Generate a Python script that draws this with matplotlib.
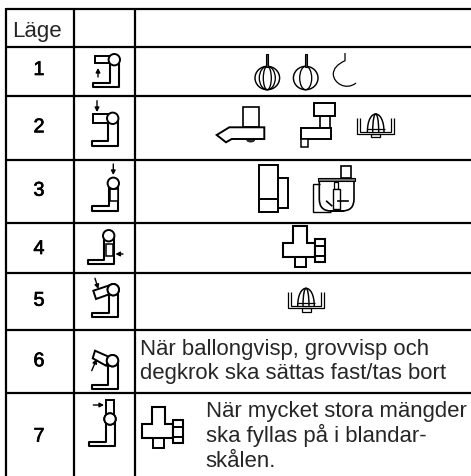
import numpy as np
import matplotlib
matplotlib.use("Agg")
import matplotlib.pyplot as plt
from matplotlib.patches import Circle, Ellipse, PathPatch, Polygon, Rectangle
from matplotlib.path import Path
import matplotlib.patheffects as pe

# table content
header = "Läge"
row_labels = ["1", "2", "3", "4", "5", "6", "7"]
note_6 = ["När ballongvisp, grovvisp och", "degkrok ska sättas fast/tas bort"]
note_7 = ["När mycket stora mängder", "ska fyllas på i blandar-", "skålen."]

# layout, in pixels of the 471x477 picture
col_edges = [5.7, 73.7, 135]
row_edges = [10, 47.7, 97, 160.7, 224.3, 273.7, 331, 394]
label_base = [76, 133.3, 196.7, 255, 306.7, 367.3, 442.7]

plt.rcParams["font.family"] = ["Liberation Sans", "DejaVu Sans"]

fig = plt.figure(figsize=(4.71, 4.77), dpi=100)
ax = fig.add_axes([0, 0, 1, 1])
ax.set_xlim(0, 471)
ax.set_ylim(477, 0)
ax.axis("off")

GRID = 1.6
LW = 1.2
TXT = "#262626"


def line(xs, ys, lw=LW):
    ax.plot(xs, ys, color="k", lw=lw, solid_capstyle="butt", solid_joinstyle="miter", zorder=4)


def rect(x0, y0, x1, y1, lw=LW, fc="white"):
    ax.add_patch(Rectangle((x0, y0), x1 - x0, y1 - y0, fc=fc, ec="k", lw=lw, zorder=3))


def poly(pts, lw=LW):
    ax.add_patch(Polygon(pts, closed=True, fc="white", ec="k", lw=lw, zorder=3))


def arrow(x0, y0, x1, y1):
    ax.annotate("", xy=(x1, y1), xytext=(x0, y0), zorder=5,
                arrowprops=dict(arrowstyle="-|>,head_length=0.25,head_width=0.13",
                                color="k", lw=1.0, shrinkA=0, shrinkB=0))


def mixer(cx, cy, depth=27.4, reach=21):
    # stand: column with foot, head is drawn by the caller
    xs = [cx - 4.5, cx - 4.5, cx - reach, cx - reach, cx + 5, cx + 5]
    ys = [cy, cy + depth - 4.5, cy + depth - 4.5, cy + depth, cy + depth, cy]
    ax.add_patch(Polygon(np.column_stack([xs, ys]), closed=False, fc="white", ec="k", lw=1.5,
                         joinstyle="round", zorder=2))
    ax.add_patch(Circle((cx, cy), 5.7, fc="white", ec="k", lw=1.4, zorder=4))


def whisk(cx, cy, inner):
    rect(cx - 0.9, 55, cx + 0.9, cy - 11, lw=0.8, fc="#444444")
    ax.add_patch(Ellipse((cx, cy), 24.6, 23.4, fc="none", ec="k", lw=1.05))
    for w in inner:
        ax.add_patch(Ellipse((cx, cy), w, 23.4, fc="none", ec="k", lw=0.95))


def citrus(cx, top):
    for dx, h in [(18.3, 16.5), (15.3, 14.5)]:
        line([cx - dx, cx - dx, cx + dx, cx + dx],
             [top + 3.5, top + 3.5 + h, top + 3.5 + h, top + 3.5], lw=0.9)
    for w in (16.6, 6):
        verts = [(cx - w / 2, top + 18), (cx - w / 2, top - 6), (cx + w / 2, top - 6), (cx + w / 2, top + 18)]
        codes = [Path.MOVETO, Path.CURVE4, Path.CURVE4, Path.CURVE4]
        ax.add_patch(PathPatch(Path(verts, codes), fc="none", ec="k", lw=1.05))
    line([cx - 9, cx + 9], [top + 15, top + 15], lw=0.9)
    rect(cx - 4.5, top + 20, cx + 4.5, top + 23.3, lw=0.9)


def cross(x, y):
    # x, y is the top left corner of the upper part
    pts = [(x, y), (x + 13.4, y), (x + 13.4, y + 17.3), (x + 21.7, y + 17.3), (x + 21.7, y + 31.6),
           (x - 10, y + 31.6), (x - 10, y + 17.3), (x, y + 17.3)]
    rect(x + 1.7, y + 31.6, x + 12.4, y + 41, lw=1.4)
    poly(pts, lw=1.5)
    rect(x + 21.7, y + 13.3, x + 31.7, y + 36.6, lw=1.5)
    line([x + 21.7, x + 31.7], [y + 20.6, y + 20.6], lw=1.4)
    line([x + 21.7, x + 31.7], [y + 30, y + 30], lw=1.4)


# grid
ax.hlines(row_edges, col_edges[0], 471, color="k", lw=GRID)
ax.vlines(col_edges, row_edges[0] - 0.7, 477, color="k", lw=GRID)

# header and row numbers
ax.text(12, 37.5, header, fontsize=16, ha="left", va="baseline", color=TXT)
for lab, y in zip(row_labels, label_base):
    ax.text(39, y, lab, fontsize=14.3, ha="center", va="baseline", color="k",
            path_effects=[pe.withStroke(linewidth=0.5, foreground="k")])

# position pictograms
mixer(114.3, 60.7)
rect(95, 57.3, 110, 64, lw=1.4)
arrow(98, 78, 98, 69)

mixer(112.7, 119.3)
rect(92.7, 115, 108, 124, lw=1.4)
arrow(97, 101.7, 97, 113)

mixer(113.3, 184.3)
rect(110.2, 190, 117.8, 202, lw=1.1)
arrow(113.3, 165, 113.3, 176)

mixer(108.7, 236.7, depth=28.3, reach=21)
rect(105.5, 245, 113, 257, lw=1.1)
arrow(123, 255, 115.5, 255)

mixer(113.3, 290.7, depth=27.3)
poly([(93.3, 291.7), (108.3, 286.7), (110, 295), (96, 300)], lw=1.4)
ax.add_patch(Circle((113.3, 290.7), 5.7, fc="white", ec="k", lw=1.4, zorder=4))
arrow(95, 279.3, 98.3, 290)

mixer(112.5, 361.7, depth=28.3, reach=20.5)
poly([(95, 351.7), (110, 358.3), (106, 366.7), (92.7, 359.3)], lw=1.4)
ax.add_patch(Circle((112.5, 361.7), 5.7, fc="white", ec="k", lw=1.4, zorder=4))
arrow(91.7, 371.7, 96.7, 360)

mixer(110, 420, depth=27.3)
rect(106, 400.7, 114, 416.7, lw=1.4)
ax.add_patch(Circle((110, 420), 5.7, fc="white", ec="k", lw=1.4, zorder=4))
arrow(93.3, 406, 104, 406)

# row 1: whisks and hook
whisk(267.3, 79, [8, 16])
whisk(305.7, 79, [12])
hook = [(345, 54), (345, 61.7), (333.3, 67), (333.3, 75), (333.3, 84), (346, 92), (356, 84)]
ax.add_patch(PathPatch(Path(hook, [Path.MOVETO, Path.LINETO, Path.CURVE3, Path.CURVE3, Path.CURVE4, Path.CURVE4, Path.CURVE4]),
                       fc="none", ec="k", lw=0.9))

# row 2: slicer, mincer, citrus press
rect(242.7, 108.3, 259.3, 128.3)
poly([(216.7, 136), (229.3, 128.3), (264.3, 128.3), (264.3, 140), (231.7, 140), (226, 143.3)], lw=1.4)
ax.add_patch(Ellipse((250.7, 140.8), 8, 4.5, fc="#333333", ec="k", lw=0.5, zorder=2))

rect(320, 116.7, 330, 129.3)
rect(314, 104, 335, 116.7, lw=1.4)
rect(301, 129.3, 331, 140, lw=1.4)
rect(301, 140, 308.3, 147.7, lw=1.1)
citrus(375.7, 115)

# row 3: blender, food processor
rect(259, 166, 277.7, 212.7, lw=1.4)
line([259, 277.7], [200, 200], lw=1.4)
rect(277.7, 179, 288.3, 209.3, lw=1.4)

rect(341, 167.3, 351, 179.3)
line([319.5, 312.7, 312.7, 331], [185, 185, 212.7, 212.7], lw=1.0)
bowl = [(319.3, 182), (319.3, 200), (319.3, 212), (331, 212), (342, 212), (354, 212), (354, 200), (354, 182)]
ax.add_patch(PathPatch(Path(bowl, [Path.MOVETO, Path.LINETO, Path.CURVE3, Path.CURVE3, Path.LINETO, Path.CURVE3, Path.CURVE3, Path.LINETO]),
                       fc="white", ec="k", lw=1.2, zorder=3))
rect(318.3, 179.3, 355, 182.3, lw=0.8, fc="#777777")
rect(334.3, 183, 338.3, 190, lw=0.9)
rect(332.7, 190, 340, 210, lw=1.0)
ax.plot([326.7, 331.7], [202.3, 206.7], color="k", lw=1.2, zorder=4)
ax.plot([338, 348.3], [202.3, 202.3], color="k", lw=1.2, zorder=4)
ax.add_patch(Rectangle((330, 210.5), 13.5, 2.3, fc="k", ec="none", zorder=4))

# row 4, 5 and 7 attachments
cross(293.3, 226.7)
citrus(306, 289.3)
cross(151.7, 407.7)

# notes
for txt, y in zip(note_6, [355, 379]):
    ax.text(140, y, txt, fontsize=15.9, ha="left", va="baseline", color=TXT)
for txt, y in zip(note_7, [417, 442, 467]):
    ax.text(205.5, y, txt, fontsize=15.9, ha="left", va="baseline", color=TXT)

fig.savefig("out.png", dpi=100)
